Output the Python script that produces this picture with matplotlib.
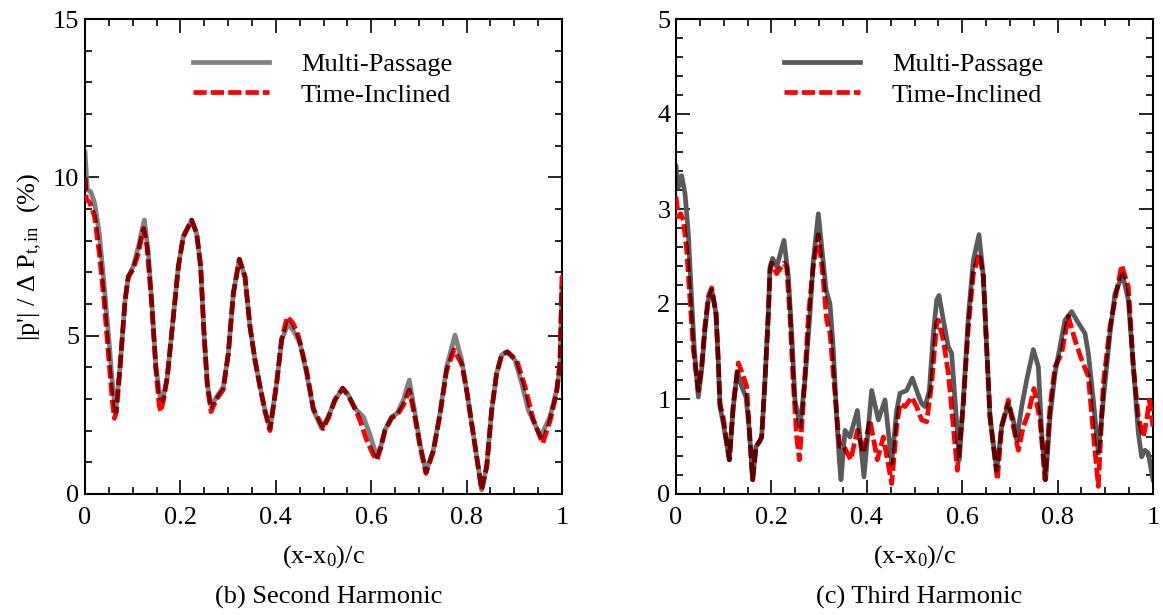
"""Second and third harmonic pressure amplitude along the chord."""

import numpy as np
import matplotlib

matplotlib.use("Agg")
import matplotlib.pyplot as plt
from matplotlib.path import Path
from matplotlib.ticker import FuncFormatter, MultipleLocator
from matplotlib.transforms import IdentityTransform

plt.rcParams["font.family"] = ["Liberation Serif", "DejaVu Serif"]
plt.rcParams["mathtext.fontset"] = "custom"
plt.rcParams["mathtext.rm"] = "Liberation Serif"
plt.rcParams["mathtext.it"] = "Liberation Serif:italic"
plt.rcParams["lines.scale_dashes"] = False

SERIES_LABELS = ["Multi-Passage", "Time-Inclined"]
PANEL_TITLES = ["(b) Second Harmonic", "(c) Third Harmonic"]
X_LABEL = r"(x-x$_0$)/c"
Y_LABEL = r"|p'| / $\Delta$ P$_{\rm t,in}$  (%)"

# (b) second harmonic
SH_X_MP = [0.0, 0.0049, 0.0119, 0.0203, 0.030, 0.0398, 0.0503, 0.0573, 0.0643, 0.0734,
           0.0839, 0.0908, 0.1013, 0.1118, 0.1188, 0.1244, 0.1328, 0.1398, 0.1488, 0.1572,
           0.1628, 0.1726, 0.1852, 0.1957, 0.2061, 0.2236, 0.2341, 0.2425, 0.2495, 0.2565,
           0.2642, 0.2760, 0.2900, 0.3005, 0.3110, 0.3236, 0.3354, 0.3459, 0.3564, 0.3669,
           0.3774, 0.3878, 0.4018, 0.4123, 0.4263, 0.4403, 0.4507, 0.4647, 0.4787, 0.4962,
           0.5101, 0.5241, 0.5402, 0.5521, 0.5660, 0.5835, 0.5940, 0.6040, 0.6120, 0.6200,
           0.6289, 0.6429, 0.6548, 0.6674, 0.6799, 0.6918, 0.7023, 0.7149, 0.7303, 0.7442,
           0.7582, 0.7757, 0.7897, 0.8001, 0.8106, 0.8211, 0.8316, 0.8421, 0.8526, 0.8630,
           0.8735, 0.8854, 0.9015, 0.9155, 0.9294, 0.9553, 0.9748, 0.9888, 0.9958, 1.0]
SH_Y_MP = [10.8, 9.6, 9.55, 9.18, 8.23, 6.65, 4.86, 3.5, 2.6, 4.0,
           6.1, 6.86, 7.2, 7.8, 8.3, 8.65, 7.6, 6.1, 4.0, 3.07,
           2.97, 3.7, 5.6, 7.18, 8.13, 8.65, 8.23, 7.18, 5.07, 3.5,
           2.76, 3.07, 3.39, 4.44, 6.34, 7.41, 6.86, 5.28, 4.23, 3.39,
           2.65, 2.07, 3.5, 4.86, 5.39, 5.07, 4.76, 3.8, 2.65, 2.07,
           2.44, 2.97, 3.34, 3.13, 2.7, 2.44, 2.02, 1.55, 1.18, 1.5,
           2.02, 2.44, 2.55, 2.97, 3.6, 2.55, 1.6, 0.7, 1.39, 2.55,
           4.02, 5.02, 4.23, 3.28, 2.23, 1.18, 0.13, 0.86, 2.65, 3.81,
           4.39, 4.49, 4.23, 3.5, 2.65, 1.81, 2.44, 3.28, 4.02, 6.5]
SH_X_TI = [0.0, 0.003, 0.010, 0.020, 0.030, 0.040, 0.050, 0.057, 0.0615, 0.066,
           0.0734, 0.0839, 0.0908, 0.1013, 0.1118, 0.1188, 0.1230, 0.1300, 0.1398, 0.1488,
           0.1555, 0.1590, 0.1650, 0.1726, 0.1852, 0.1957, 0.2061, 0.2236, 0.2341, 0.2425,
           0.2495, 0.2565, 0.2642, 0.2760, 0.2900, 0.3005, 0.3110, 0.3236, 0.3354, 0.3459,
           0.3564, 0.3669, 0.3774, 0.3878, 0.4018, 0.4123, 0.4240, 0.4357, 0.4473, 0.4647,
           0.4787, 0.4997, 0.5101, 0.5241, 0.5402, 0.5521, 0.5660, 0.5770, 0.5905, 0.6040,
           0.6120, 0.6200, 0.6289, 0.6429, 0.6548, 0.6674, 0.6799, 0.6918, 0.7023, 0.7149,
           0.7303, 0.7442, 0.7582, 0.7736, 0.7897, 0.8001, 0.8106, 0.8211, 0.8316, 0.8421,
           0.8526, 0.8630, 0.8735, 0.8854, 0.9050, 0.9225, 0.9400, 0.9595, 0.9748, 0.9888,
           0.9958, 1.0]
SH_Y_TI = [10.0, 9.3, 9.2, 8.76, 7.6, 6.1, 4.23, 2.97, 2.39, 2.6,
           4.0, 6.1, 6.86, 7.1, 7.6, 8.1, 8.38, 7.8, 6.0, 3.9,
           2.8, 2.6, 3.0, 3.7, 5.6, 7.18, 8.13, 8.65, 8.23, 7.18,
           5.07, 3.4, 2.6, 3.0, 3.3, 4.44, 6.34, 7.41, 6.86, 5.28,
           4.23, 3.39, 2.6, 2.0, 3.5, 4.9, 5.6, 5.4, 5.0, 3.9,
           2.7, 2.07, 2.4, 2.97, 3.34, 3.1, 2.7, 2.3, 1.7, 1.25,
           1.07, 1.45, 2.0, 2.4, 2.5, 2.8, 3.28, 2.4, 1.5, 0.65,
           1.35, 2.5, 3.9, 4.55, 4.1, 3.28, 2.23, 1.18, 0.13, 0.86,
           2.65, 3.81, 4.39, 4.49, 4.23, 3.39, 2.34, 1.6, 2.3, 3.2,
           4.2, 6.9]

# (c) third harmonic
TH_X_MP = [0.0, 0.0049, 0.0119, 0.0189, 0.0259, 0.0328, 0.0384, 0.0468, 0.0538, 0.0608,
           0.0678, 0.0748, 0.0839, 0.0887, 0.0922, 0.0992, 0.1118, 0.1202, 0.1286, 0.1377,
           0.1468, 0.1537, 0.1607, 0.1677, 0.1747, 0.1796, 0.1866, 0.1936, 0.1971, 0.2027,
           0.2110, 0.2264, 0.2355, 0.2425, 0.2495, 0.2600, 0.2704, 0.2809, 0.2879, 0.2984,
           0.3075, 0.3145, 0.3229, 0.3298, 0.3368, 0.3424, 0.3459, 0.3543, 0.3648, 0.3802,
           0.3941, 0.4102, 0.4242, 0.4382, 0.4521, 0.4626, 0.4696, 0.4836, 0.4955, 0.5045,
           0.5150, 0.5220, 0.5311, 0.5395, 0.5465, 0.5514, 0.5605, 0.5709, 0.5779, 0.5849,
           0.5940, 0.6024, 0.6129, 0.6234, 0.6352, 0.6443, 0.6499, 0.6583, 0.6723, 0.6827,
           0.6967, 0.7072, 0.7142, 0.7247, 0.7352, 0.7491, 0.7596, 0.7666, 0.7750, 0.7841,
           0.7946, 0.8050, 0.8155, 0.8295, 0.8435, 0.8574, 0.8644, 0.8749, 0.8854, 0.8958,
           0.9098, 0.9203, 0.9364, 0.9483, 0.9588, 0.9693, 0.9762, 0.9832, 0.9902, 1.0]
TH_Y_MP = [3.45, 3.23, 3.35, 3.16, 2.74, 2.04, 1.52, 1.02, 1.31, 1.73,
           2.04, 2.15, 1.9, 1.38, 0.92, 0.74, 0.36, 0.92, 1.29, 1.13,
           1.02, 0.67, 0.15, 0.5, 0.55, 0.6, 1.2, 1.9, 2.39, 2.48,
           2.39, 2.67, 2.29, 1.69, 0.99, 0.71, 1.2, 1.9, 2.46, 2.95,
           2.5, 2.15, 2.0, 1.52, 0.81, 0.36, 0.15, 0.67, 0.6, 0.88,
           0.18, 1.09, 0.78, 0.99, 0.32, 0.88, 1.06, 1.09, 1.22, 1.09,
           0.95, 0.92, 1.09, 1.69, 2.04, 2.09, 1.83, 1.55, 1.48, 0.99,
           0.36, 0.99, 1.87, 2.46, 2.73, 2.29, 1.69, 0.81, 0.25, 0.71,
           0.95, 0.78, 0.57, 0.92, 1.2, 1.52, 1.34, 0.64, 0.15, 0.81,
           1.27, 1.55, 1.83, 1.92, 1.8, 1.69, 1.48, 0.99, 0.43, 0.99,
           1.69, 2.11, 2.31, 2.04, 1.34, 0.64, 0.39, 0.46, 0.43, 0.15]
TH_X_TI = [0.0, 0.0049, 0.0098, 0.0154, 0.0224, 0.0294, 0.0363, 0.0468, 0.0538, 0.0608,
           0.0678, 0.0748, 0.0839, 0.0887, 0.0922, 0.0992, 0.1118, 0.1202, 0.1307, 0.1412,
           0.1482, 0.1537, 0.1607, 0.1677, 0.1747, 0.1796, 0.1866, 0.1936, 0.1971, 0.2006,
           0.2110, 0.2264, 0.2320, 0.2390, 0.2460, 0.2530, 0.2586, 0.2656, 0.2779, 0.2879,
           0.2984, 0.3075, 0.3159, 0.3229, 0.3298, 0.3403, 0.3438, 0.3522, 0.3662, 0.3802,
           0.3927, 0.4067, 0.4221, 0.4347, 0.4521, 0.4626, 0.4696, 0.4801, 0.4941, 0.5045,
           0.5150, 0.5255, 0.5360, 0.5465, 0.5500, 0.5605, 0.5709, 0.5814, 0.5898, 0.6024,
           0.6129, 0.6234, 0.6359, 0.6443, 0.6499, 0.6583, 0.6737, 0.6827, 0.6967, 0.7072,
           0.7177, 0.7282, 0.7387, 0.7505, 0.7631, 0.7736, 0.7841, 0.7946, 0.8085, 0.8225,
           0.8365, 0.8505, 0.8644, 0.8749, 0.8854, 0.8958, 0.9098, 0.9343, 0.9483, 0.9588,
           0.9693, 0.9797, 0.9867, 0.9923, 1.0]
TH_Y_TI = [3.13, 2.92, 2.95, 2.88, 2.57, 2.04, 1.52, 1.09, 1.35, 1.78,
           2.08, 2.17, 1.9, 1.4, 0.95, 0.8, 0.36, 0.95, 1.38, 1.24,
           1.13, 0.67, 0.15, 0.5, 0.55, 0.6, 1.2, 1.9, 2.35, 2.43,
           2.32, 2.43, 2.39, 1.87, 1.16, 0.6, 0.36, 0.85, 1.9, 2.4,
           2.73, 2.32, 1.83, 1.69, 1.27, 0.64, 0.5, 0.5, 0.36, 0.67,
           0.43, 0.78, 0.36, 0.6, 0.11, 0.71, 0.95, 0.92, 1.02, 0.92,
           0.78, 0.76, 1.16, 1.8, 1.83, 1.62, 1.27, 0.71, 0.25, 0.95,
           1.76, 2.32, 2.53, 2.29, 1.69, 0.81, 0.15, 0.71, 0.99, 0.71,
           0.46, 0.71, 0.85, 1.11, 0.78, 0.15, 0.92, 1.34, 1.48, 1.87,
           1.62, 1.41, 1.24, 0.64, 0.08, 1.16, 1.76, 2.41, 2.18, 1.34,
           0.81, 0.6, 0.78, 0.99, 0.71]

DPI = 100
LW = 3.4
DASH = (0, (9.5, 3.0))
FS = 19


def band_path(line, width_px):
    """Outline of a stroked line in display coords (same winding everywhere)."""
    xy = line.get_transform().transform(line.get_xydata())
    h = width_px / 2
    ang = np.linspace(2 * np.pi, 0, 17)[:-1]
    circ = np.column_stack([np.cos(ang), np.sin(ang)]) * h
    verts, codes = [], []
    for p, q in zip(xy[:-1], xy[1:]):
        d = q - p
        n = np.hypot(*d)
        if n == 0:
            continue
        off = np.array([-d[1], d[0]]) / n * h
        verts += [p + off, q + off, q - off, p - off, p + off]
        codes += [Path.MOVETO] + [Path.LINETO] * 3 + [Path.CLOSEPOLY]
    for p in xy:
        verts += list(p + circ) + [p + circ[0]]
        codes += [Path.MOVETO] + [Path.LINETO] * (len(circ) - 1) + [Path.CLOSEPOLY]
    return Path(np.array(verts), codes)


def draw_panel(ax, x_mp, y_mp, x_ti, y_ti, grey, dark, ymax, ymajor, yminor):
    ax.set_xlim(0, 1)
    ax.set_ylim(0, ymax)
    (mp,) = ax.plot(x_mp, y_mp, color=grey, lw=LW, solid_joinstyle="round",
                    label=SERIES_LABELS[0], zorder=2)
    ax.plot(x_ti, y_ti, color="#ff0000", lw=LW, ls=DASH, label=SERIES_LABELS[1], zorder=3)
    # where the dashed curve lies on the solid one the colours multiply
    (over,) = ax.plot(x_ti, y_ti, color=dark, lw=LW, ls=DASH, zorder=4)
    over.set_clip_path(band_path(mp, LW * DPI / 72), IdentityTransform())

    ax.xaxis.set_major_locator(MultipleLocator(0.2))
    ax.xaxis.set_minor_locator(MultipleLocator(0.05))
    ax.yaxis.set_major_locator(MultipleLocator(ymajor))
    ax.yaxis.set_minor_locator(MultipleLocator(yminor))
    fmt = FuncFormatter(lambda v, p: f"{v:g}")
    ax.xaxis.set_major_formatter(fmt)
    ax.yaxis.set_major_formatter(fmt)
    ax.tick_params(which="both", direction="in", top=True, right=True,
                   labelsize=FS, width=1.2, colors="black")
    ax.tick_params(which="major", length=10)
    ax.tick_params(which="minor", length=5)
    ax.tick_params(axis="x", pad=9)
    ax.tick_params(axis="y", pad=4)
    for s in ax.spines.values():
        s.set_linewidth(1.5)

    ax.legend(loc="upper left", bbox_to_anchor=(0.226, 0.929), frameon=False,
              fontsize=FS, handlelength=2.9, handletextpad=1.2, labelspacing=0.26,
              borderpad=0, borderaxespad=0)


fig = plt.figure(figsize=(11.63, 6.15), dpi=DPI)
W, H = 1163, 615
ax_b = fig.add_axes([85 / W, (H - 494) / H, 477 / W, 475 / H])
ax_c = fig.add_axes([676 / W, (H - 494) / H, 477 / W, 475 / H])

draw_panel(ax_b, SH_X_MP, SH_Y_MP, SH_X_TI, SH_Y_TI, "#808080", "#800000", 15, 5, 1)
draw_panel(ax_c, TH_X_MP, TH_Y_MP, TH_X_TI, TH_Y_TI, "#5a5a5a", "#5a0000", 5, 1, 0.2)

ax_b.set_ylabel(Y_LABEL, fontsize=FS)
ax_b.yaxis.set_label_coords(-0.085, 0.5)

for ax, title in [(ax_b, PANEL_TITLES[0]), (ax_c, PANEL_TITLES[1])]:
    ax.set_xlabel(X_LABEL, fontsize=FS)
    ax.xaxis.label.set_va("center")
    ax.xaxis.set_label_coords(0.5, (494 - 557) / 475)
    x0 = ax.get_position().x0 * W
    fig.text((x0 + 238.5 + 5) / W, 1 - 597 / H, title, fontsize=FS,
             ha="center", va="center")

fig.savefig("out.png", dpi=DPI)
